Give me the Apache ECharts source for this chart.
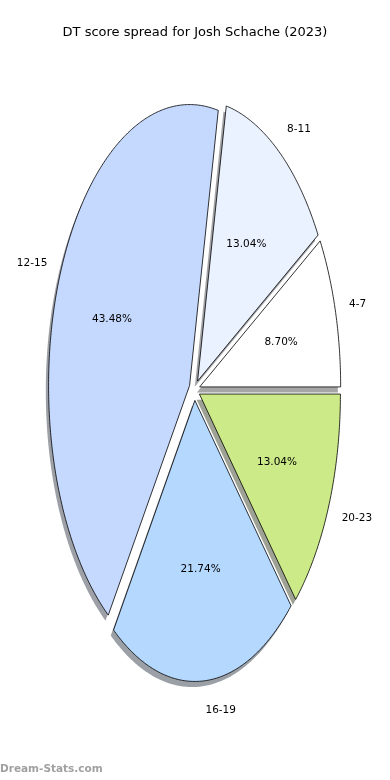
<!DOCTYPE html>
<html>
<head>
<meta charset="utf-8">
<script src="https://cdn.jsdelivr.net/npm/echarts@6/dist/echarts.min.js"></script>
<style>
html,body{margin:0;padding:0;background:#fff;}
#chart{width:390px;height:780px;}
</style>
</head>
<body>
<div id="chart"></div>
<script>
// ---- data ----
const categories = ['4-7', '8-11', '12-15', '16-19', '20-23'];
const counts = [2, 3, 10, 5, 3];
const sliceColors = ['#ffffff', '#eaf1ff', '#c5d9ff', '#b5d8ff', '#ccea88'];
const titleText = 'DT score spread for Josh Schache (2023)';
const watermark = 'Dream-Stats.com';

// ---- layout ----
const CX = 194.5, CY = 389.8, RX = 141, RY = 281;
const EXPLODE = 0.038;
const SHADOW_DX = -2.8, SHADOW_DY = 5.6;
const FONT = '"DejaVu Sans", sans-serif';

const total = counts.reduce((a, b) => a + b, 0);
const startAngles = [];
let acc = 0;
counts.forEach(v => { startAngles.push(acc / total * 2 * Math.PI); acc += v; });

function geom(i) {
  const a0 = startAngles[i];
  const a1 = a0 + counts[i] / total * 2 * Math.PI;
  const m = (a0 + a1) / 2;
  const ax = CX + EXPLODE * RX * Math.cos(m);
  const ay = CY - EXPLODE * RY * Math.sin(m);
  const pts = [[ax, ay]];
  const n = Math.max(8, Math.ceil((a1 - a0) / 0.01));
  for (let k = 0; k <= n; k++) {
    const t = a0 + (a1 - a0) * k / n;
    pts.push([ax + RX * Math.cos(t), ay - RY * Math.sin(t)]);
  }
  return { a0, a1, m, ax, ay, pts };
}

function darken(hex) {
  const r = parseInt(hex.slice(1, 3), 16), g = parseInt(hex.slice(3, 5), 16), b = parseInt(hex.slice(5, 7), 16);
  return 'rgb(' + Math.round(r * 0.3) + ',' + Math.round(g * 0.3) + ',' + Math.round(b * 0.3) + ')';
}

const seriesData = categories.map((c, i) => ({ name: c, value: counts[i] }));

const chart = echarts.init(document.getElementById('chart'), null, { renderer: 'canvas' });
chart.setOption({
  animation: false,
  backgroundColor: '#ffffff',
  title: {
    text: titleText,
    left: 'center',
    top: 21,
    textStyle: { fontFamily: FONT, fontSize: 13, fontWeight: 'normal', color: '#000' }
  },
  graphic: [{
    type: 'text',
    left: 0,
    top: 764,
    style: { text: watermark, fill: 'rgba(128,128,128,0.75)', font: 'bold 10.5px ' + FONT }
  }],
  series: [
    {
      type: 'custom',
      coordinateSystem: 'none',
      z: 1,
      data: seriesData,
      renderItem: function (params, api) {
        const i = params.dataIndex;
        const g = geom(i);
        return {
          type: 'polygon',
          x: SHADOW_DX, y: SHADOW_DY,
          shape: { points: g.pts },
          style: { fill: darken(sliceColors[i]), opacity: 0.5 },
          silent: true
        };
      }
    },
    {
      type: 'custom',
      coordinateSystem: 'none',
      z: 2,
      data: seriesData,
      renderItem: function (params, api) {
        const i = params.dataIndex;
        const v = api.value(0);
        const g = geom(i);
        const pct = (v / total * 100).toFixed(2) + '%';
        const lx = g.ax + 1.1 * RX * Math.cos(g.m);
        const ly = g.ay - 1.1 * RY * Math.sin(g.m) + 1;
        const px = g.ax + 0.6 * RX * Math.cos(g.m);
        const py = g.ay - 0.6 * RY * Math.sin(g.m) + 1;
        return {
          type: 'group',
          children: [
            {
              type: 'polygon',
              shape: { points: g.pts },
              style: { fill: sliceColors[i], stroke: '#000', lineWidth: 0.8 }
            },
            {
              type: 'text',
              x: px, y: py,
              style: { text: pct, align: 'center', verticalAlign: 'middle', font: '10.5px ' + FONT, fill: '#000' }
            },
            {
              type: 'text',
              x: lx, y: ly,
              style: { text: categories[i], align: Math.cos(g.m) > 0 ? 'left' : 'right', verticalAlign: 'middle', font: '10.5px ' + FONT, fill: '#000' }
            }
          ]
        };
      }
    }
  ]
});
</script>
</body>
</html>
